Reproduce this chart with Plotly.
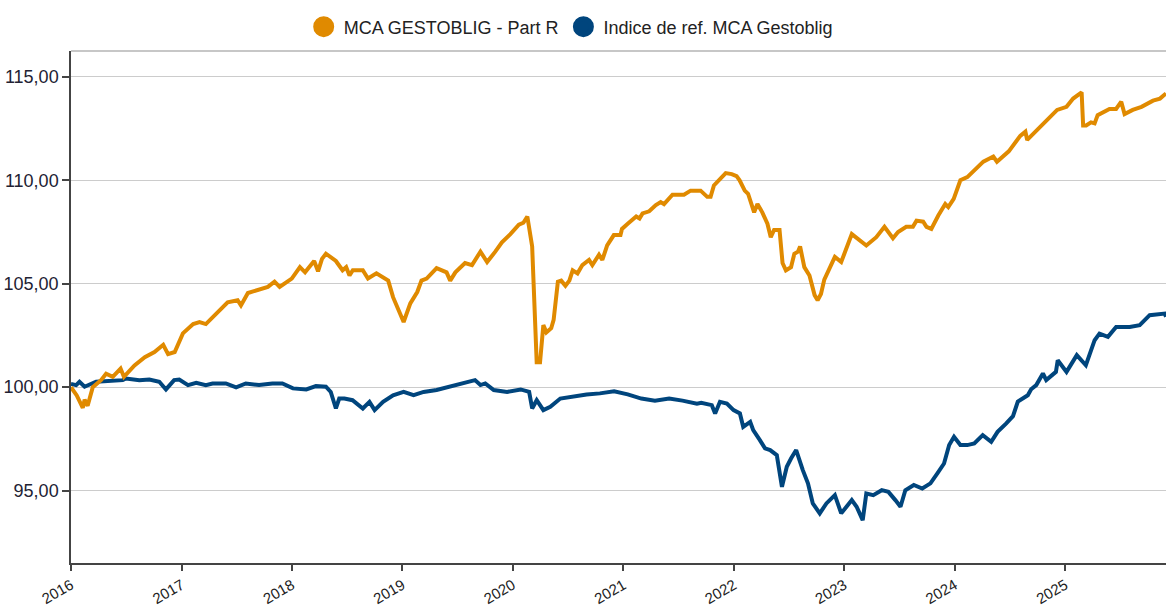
import plotly.graph_objects as go

# ---------------- data ----------------
fund_name = "MCA GESTOBLIG - Part R"
index_name = "Indice de ref. MCA Gestoblig"

fund_dates = [
    "2016-01-01", "2016-01-20", "2016-02-09", "2016-02-15", "2016-02-25", "2016-03-13", "2016-04-10",
    "2016-04-26", "2016-05-18", "2016-06-13", "2016-06-24", "2016-07-29", "2016-09-01", "2016-10-03",
    "2016-11-01", "2016-11-17", "2016-12-09", "2017-01-05", "2017-02-08", "2017-03-01", "2017-03-22",
    "2017-04-25", "2017-06-02", "2017-07-05", "2017-07-16", "2017-08-08", "2017-09-10", "2017-10-13",
    "2017-11-04", "2017-11-21", "2017-12-31", "2018-01-27", "2018-02-13", "2018-03-15", "2018-03-28",
    "2018-04-10", "2018-04-23", "2018-05-26", "2018-06-17", "2018-06-29", "2018-07-10", "2018-07-21",
    "2018-08-23", "2018-09-09", "2018-10-07", "2018-10-29", "2018-11-15", "2018-12-01", "2018-12-23",
    "2019-01-05", "2019-01-27", "2019-02-19", "2019-03-05", "2019-03-22", "2019-04-24", "2019-05-27",
    "2019-06-08", "2019-06-25", "2019-07-27", "2019-08-19", "2019-09-16", "2019-10-08", "2019-11-04",
    "2019-11-26", "2019-12-24", "2020-01-21", "2020-02-05", "2020-02-18", "2020-03-05", "2020-03-10",
    "2020-03-15", "2020-03-20", "2020-03-31", "2020-04-11", "2020-04-21", "2020-05-07", "2020-05-15",
    "2020-05-29", "2020-06-09", "2020-06-23", "2020-07-06", "2020-07-17", "2020-08-02", "2020-08-18",
    "2020-09-09", "2020-09-20", "2020-10-12", "2020-10-23", "2020-11-08", "2020-11-30", "2020-12-22",
    "2020-12-27", "2021-01-15", "2021-02-12", "2021-02-23", "2021-03-05", "2021-03-27", "2021-04-18",
    "2021-05-04", "2021-05-15", "2021-06-12", "2021-07-04", "2021-07-20", "2021-08-11", "2021-09-13",
    "2021-10-05", "2021-10-16", "2021-10-27", "2021-11-13", "2021-12-05", "2021-12-25", "2022-01-10",
    "2022-01-20", "2022-02-06", "2022-02-17", "2022-03-09", "2022-03-20", "2022-04-05", "2022-04-22",
    "2022-05-03", "2022-05-14", "2022-06-01", "2022-06-11", "2022-06-22", "2022-07-09", "2022-07-20",
    "2022-08-01", "2022-08-08", "2022-08-22", "2022-09-08", "2022-09-25", "2022-10-05", "2022-10-16",
    "2022-10-27", "2022-12-01", "2022-12-22", "2023-01-26", "2023-03-15", "2023-04-17", "2023-05-14",
    "2023-06-11", "2023-06-28", "2023-07-25", "2023-08-16", "2023-08-28", "2023-09-19", "2023-09-30",
    "2023-10-16", "2023-11-08", "2023-12-01", "2023-12-11", "2023-12-29", "2024-01-20", "2024-02-12",
    "2024-04-05", "2024-05-08", "2024-05-20", "2024-06-28", "2024-08-05", "2024-08-22", "2024-08-28",
    "2024-10-05", "2024-10-22", "2024-12-05", "2025-01-05", "2025-01-27", "2025-02-24", "2025-03-01",
    "2025-03-11", "2025-03-27", "2025-04-08", "2025-04-18", "2025-05-27", "2025-06-18", "2025-07-05",
    "2025-07-16", "2025-08-12", "2025-09-10", "2025-10-18", "2025-11-10", "2025-11-30",
]
fund_values = [
    100.0, 99.6, 99.0, 99.4, 99.1, 100.0, 100.35,
    100.65, 100.5, 100.9, 100.5, 101.05, 101.45, 101.7,
    102.05, 101.6, 101.7, 102.6, 103.05, 103.15, 103.05,
    103.55, 104.1, 104.2, 103.95, 104.55, 104.7, 104.85,
    105.1, 104.85, 105.25, 105.8, 105.55, 106.1, 105.6,
    106.2, 106.45, 106.1, 105.65, 105.8, 105.4, 105.65,
    105.65, 105.25, 105.5, 105.3, 105.15, 104.35, 103.55,
    103.15, 104.05, 104.6, 105.15, 105.25, 105.75, 105.55,
    105.15, 105.55, 106.0, 105.9, 106.55, 106.05, 106.55,
    107.0, 107.4, 107.85, 107.95, 108.25, 106.8, 105.0,
    102.75, 101.2, 101.2, 103.0, 102.65, 102.85, 103.25,
    105.1, 105.15, 104.9, 105.15, 105.65, 105.5, 105.9,
    106.15, 105.9, 106.4, 106.15, 106.85, 107.35, 107.35,
    107.65, 107.9, 108.25, 108.15, 108.4, 108.5, 108.8,
    108.95, 108.85, 109.3, 109.3, 109.3, 109.5, 109.5,
    109.2, 109.2, 109.75, 110.0, 110.35, 110.3, 110.2,
    110.0, 109.5, 109.35, 108.45, 108.85, 108.45, 107.9,
    107.25, 107.6, 107.6, 106.0, 105.65, 105.8, 106.45,
    106.55, 106.8, 105.8, 105.4, 104.45, 104.2, 104.5,
    105.2, 106.3, 106.05, 107.4, 106.85, 107.25, 107.75,
    107.2, 107.5, 107.75, 107.75, 108.05, 108.0, 107.75,
    107.65, 108.3, 108.85, 108.7, 109.1, 110.0, 110.15,
    110.9, 111.15, 110.9, 111.4, 112.15, 112.35, 111.95,
    112.5, 112.75, 113.4, 113.55, 113.95, 114.25, 112.65,
    112.65, 112.8, 112.75, 113.15, 113.45, 113.45, 113.8,
    113.2, 113.4, 113.55, 113.85, 113.95, 114.2,
]

index_dates = [
    "2016-01-01", "2016-01-18", "2016-01-29", "2016-02-15", "2016-03-24", "2016-05-07", "2016-06-20",
    "2016-07-01", "2016-08-14", "2016-09-16", "2016-10-19", "2016-11-10", "2016-12-07", "2016-12-24",
    "2017-01-22", "2017-02-18", "2017-03-22", "2017-04-13", "2017-05-27", "2017-06-30", "2017-08-01",
    "2017-09-14", "2017-10-28", "2017-11-30", "2018-01-04", "2018-02-17", "2018-03-21", "2018-04-23",
    "2018-05-09", "2018-05-26", "2018-06-06", "2018-06-23", "2018-07-20", "2018-08-23", "2018-09-14",
    "2018-10-01", "2018-10-29", "2018-12-01", "2019-01-05", "2019-02-07", "2019-03-12", "2019-04-24",
    "2019-06-08", "2019-07-10", "2019-08-29", "2019-09-16", "2019-10-02", "2019-10-30", "2019-12-13",
    "2020-01-27", "2020-02-24", "2020-03-05", "2020-03-20", "2020-04-11", "2020-05-04", "2020-06-06",
    "2020-07-15", "2020-09-01", "2020-10-15", "2020-12-01", "2021-01-15", "2021-03-01", "2021-04-15",
    "2021-06-01", "2021-07-15", "2021-09-01", "2021-09-15", "2021-10-20", "2021-10-31", "2021-11-16",
    "2021-12-09", "2021-12-31", "2022-01-21", "2022-02-01", "2022-02-24", "2022-03-06", "2022-03-28",
    "2022-04-14", "2022-05-01", "2022-05-23", "2022-06-09", "2022-06-25", "2022-07-09", "2022-07-26",
    "2022-08-17", "2022-09-03", "2022-09-19", "2022-10-12", "2022-11-03", "2022-12-01", "2022-12-22",
    "2023-01-26", "2023-02-11", "2023-03-03", "2023-03-15", "2023-04-07", "2023-05-05", "2023-05-27",
    "2023-06-19", "2023-07-06", "2023-07-22", "2023-08-19", "2023-09-16", "2023-10-13", "2023-11-05",
    "2023-11-27", "2023-12-14", "2023-12-30", "2024-01-20", "2024-02-12", "2024-03-06", "2024-04-03",
    "2024-05-01", "2024-05-22", "2024-06-19", "2024-07-12", "2024-07-28", "2024-08-30", "2024-09-10",
    "2024-09-27", "2024-10-19", "2024-10-30", "2024-12-01", "2024-12-07", "2025-01-05", "2025-02-08",
    "2025-03-10", "2025-04-08", "2025-04-24", "2025-05-22", "2025-06-18", "2025-08-02", "2025-09-04",
    "2025-10-07", "2025-11-26", "2025-11-30",
]
index_values = [
    100.15, 100.1, 100.26, 100.02, 100.26, 100.3, 100.34,
    100.42, 100.34, 100.37, 100.26, 99.89, 100.34, 100.37,
    100.1, 100.21, 100.1, 100.18, 100.18, 99.99, 100.18,
    100.1, 100.18, 100.18, 99.94, 99.89, 100.05, 100.02,
    99.77, 98.97, 99.45, 99.45, 99.37, 98.97, 99.29,
    98.89, 99.29, 99.61, 99.77, 99.61, 99.77, 99.86,
    100.02, 100.18, 100.34, 100.1, 100.18, 99.86, 99.77,
    99.89, 99.77, 98.97, 99.37, 98.89, 99.05, 99.45,
    99.55, 99.65, 99.7, 99.8, 99.65, 99.45, 99.35,
    99.45, 99.35, 99.2, 99.24, 99.13, 98.73, 99.29,
    99.21, 98.89, 98.73, 98.08, 98.32, 97.92, 97.44,
    97.04, 96.96, 96.71, 95.18, 96.15, 96.55, 96.96,
    95.99, 95.35, 94.38, 93.9, 94.38, 94.78, 93.9,
    94.54, 94.22, 93.57, 94.86, 94.78, 95.02, 94.94,
    94.54, 94.22, 95.02, 95.27, 95.1, 95.35, 95.83,
    96.31, 97.2, 97.6, 97.2, 97.2, 97.28, 97.68,
    97.36, 97.84, 98.24, 98.6, 99.3, 99.61, 99.9,
    100.1, 100.66, 100.34, 100.74, 101.3, 100.74, 101.55,
    101.06, 102.27, 102.59, 102.43, 102.91, 102.91, 103.0,
    103.48, 103.56, 103.4,
]

year_ticks = ["2016-01-01", "2017-01-01", "2018-01-01", "2019-01-01", "2020-01-01",
              "2021-01-01", "2022-01-01", "2023-01-01", "2024-01-01", "2025-01-01"]
year_labels = ["2016", "2017", "2018", "2019", "2020", "2021", "2022", "2023", "2024", "2025"]
y_ticks = [95, 100, 105, 110, 115]

# ---------------- styling ----------------
ORANGE = "#E08A00"
BLUE = "#00457D"
FONT = "Liberation Sans, Arial, sans-serif"

fig = go.Figure()

# lines (index drawn first so the fund line sits on top)
fig.add_trace(go.Scatter(x=index_dates, y=index_values, mode="lines", name=index_name,
                         line=dict(color=BLUE, width=4), showlegend=False))
fig.add_trace(go.Scatter(x=fund_dates, y=fund_values, mode="lines", name=fund_name,
                         line=dict(color=ORANGE, width=4), showlegend=False))

# legend entries shown as large dots
for nm, col in [(fund_name, ORANGE), (index_name, BLUE)]:
    fig.add_trace(go.Scatter(x=[None], y=[None], mode="markers", name=nm,
                             marker=dict(color=col, size=16, symbol="circle",
                                         line=dict(color=col, width=5))))

fig.update_layout(
    width=1166, height=608,
    margin=dict(l=71, r=0, t=51, b=45, autoexpand=False),
    paper_bgcolor="white", plot_bgcolor="white",
    separators=", ",
    font=dict(family=FONT, size=17, color="#222222"),
    showlegend=True,
    legend=dict(orientation="h", x=0.2125, xanchor="left", y=1.047, yanchor="middle",
                font=dict(size=18, color="#222222"), itemsizing="trace",
                bgcolor="rgba(0,0,0,0)", itemwidth=30, tracegroupgap=0),
    hovermode=False,
)

fig.update_xaxes(
    type="date", range=["2016-01-01", "2025-11-30"], automargin=False,
    tickmode="array", tickvals=year_ticks, ticktext=year_labels,
    tickangle=-30, ticks="outside", ticklen=6, tickwidth=1.5, tickcolor="#444444",
    showline=True, linecolor="#444444", linewidth=1.5,
    showgrid=False, zeroline=False,
    tickfont=dict(size=15, color="#222222"),
)
fig.update_yaxes(
    range=[91.5, 116.25], automargin=False,
    tickmode="array", tickvals=y_ticks, tickformat=".2f",
    ticks="outside", ticklen=7, tickwidth=1.5, tickcolor="#444444",
    showline=True, linecolor="#444444", linewidth=1.5,
    showgrid=True, gridcolor="#cccccc", gridwidth=1.2,
    zeroline=False,
    tickfont=dict(size=18, color="#222233"),
)

# light top border of the plotting area
fig.add_shape(type="line", xref="paper", yref="paper", x0=0, x1=1, y0=1, y1=1,
              line=dict(color="#b5b5b5", width=1.5), layer="below")

# remove the browser's default page margin so the figure sits at the window's corner
fig.write_html("out.html",
               config={"displayModeBar": False},
               post_script="document.body.style.margin='0px';document.body.style.overflow='hidden';")
